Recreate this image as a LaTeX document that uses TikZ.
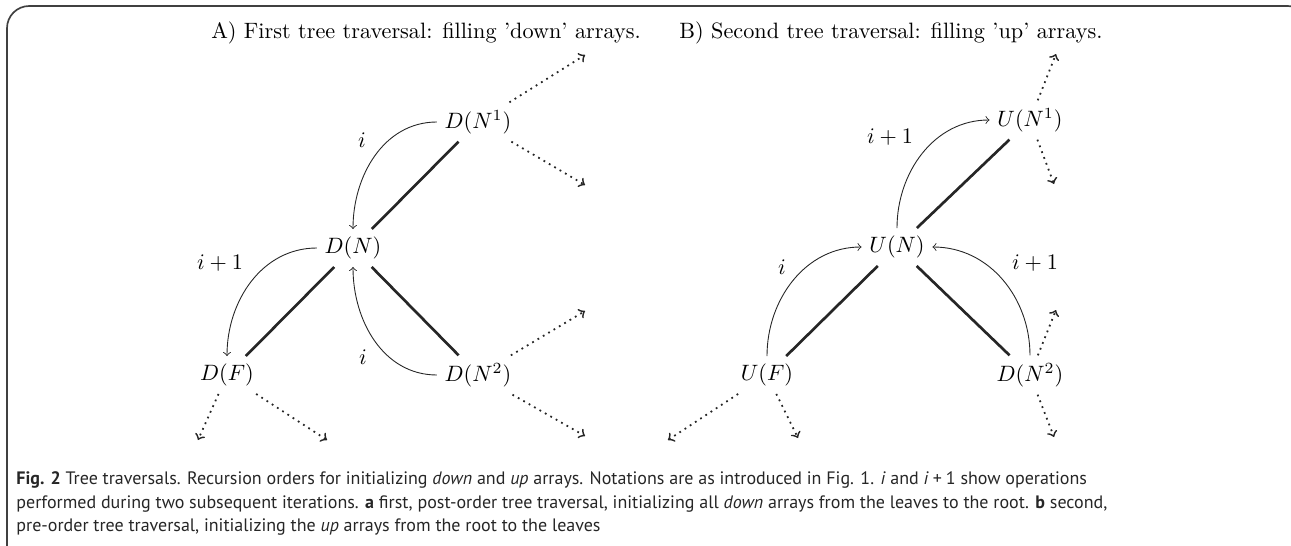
\documentclass[tikz,border=0pt]{standalone}
\usepackage{fontspec}
\newfontfamily\capfont{PT Sans}
\begin{document}
\begin{tikzpicture}[x=0.45pt,y=-0.45pt,
  tnode/.style={font=\fontsize{10}{12}\selectfont, inner sep=3.33pt},
  title/.style={font=\fontsize{10}{12}\selectfont, inner sep=0pt},
  lab/.style={font=\fontsize{10}{12}\selectfont, inner sep=0pt},
  edgeline/.style={line width=1.2pt, black!85},
  curvearrow/.style={->, line width=0.4pt, black!85},
  dotarrow/.style={->, dotted, line width=0.8pt, black!85},
  captext/.style={font=\capfont\fontsize{8.1}{10}\selectfont, anchor=base west, inner sep=0pt, text=black!85},
]
\useasboundingbox (0,0) rectangle (1291,546);
\draw[black!75, line width=0.75pt, rounded corners=10pt] (7,6) rectangle (1310,570);

% titles
\node[title] (tA) at (426,33) {A) First tree traversal: filling 'down' arrays.};
\node[title] (tB) at (891,33) {B) Second tree traversal: filling 'up' arrays.};

% left tree
\node[tnode] (DN1) at (478,122) {$D(N^1)$};
\node[tnode] (DN)  at (353,248) {$D(N)$};
\node[tnode] (DF)  at (227,375) {$D(F)$};
\node[tnode] (DN2) at (478,375) {$D(N^2)$};

\draw[edgeline] (DN) -- (DN1);
\draw[edgeline] (DN) -- (DF);
\draw[edgeline] (DN) -- (DN2);

\coordinate (a1) at (585,55);
\coordinate (a2) at (585,185);
\coordinate (a3) at (585,311);
\coordinate (a4) at (585,436);
\coordinate (a5) at (198,440);
\coordinate (a6) at (327,440);
\draw[dotarrow] (DN1) -- (a1);
\draw[dotarrow] (DN1) -- (a2);
\draw[dotarrow] (DN2) -- (a3);
\draw[dotarrow] (DN2) -- (a4);
\draw[dotarrow] (DF) -- (a5);
\draw[dotarrow] (DF) -- (a6);

\draw[curvearrow] (DN1.west) to[out=180,in=90] (DN.north);
\draw[curvearrow] (DN.west) to[out=180,in=90] (DF.north);
\draw[curvearrow] (DN2.west) to[out=180,in=-90] (DN.south);
\node[lab] (l1) at (362,140) {$i$};
\node[lab] (l2) at (220,263) {$i+1$};
\node[lab] (l3) at (363,357) {$i$};

% right tree
\node[tnode] (UN1) at (1030,120) {$U(N^1)$};
\node[tnode] (UN)  at (897,247) {$U(N)$};
\node[tnode] (UF)  at (767,375) {$U(F)$};
\node[tnode] (RN2) at (1030,375) {$D(N^2)$};

\draw[edgeline] (UN) -- (UN1);
\draw[edgeline] (UN) -- (UF);
\draw[edgeline] (UN) -- (RN2);

\coordinate (b1) at (1056,54);
\coordinate (b2) at (1054,184);
\coordinate (b3) at (1056,310);
\coordinate (b4) at (1054,437);
\coordinate (b5) at (668,440);
\coordinate (b6) at (798,438);
\draw[dotarrow] (UN1) -- (b1);
\draw[dotarrow] (UN1) -- (b2);
\draw[dotarrow] (RN2) -- (b3);
\draw[dotarrow] (RN2) -- (b4);
\draw[dotarrow] (UF) -- (b5);
\draw[dotarrow] (UF) -- (b6);

\draw[curvearrow] (UN.north) to[out=90,in=180] (UN1.west);
\draw[curvearrow] (UF.north) to[out=90,in=180] (UN.west);
\draw[curvearrow] (RN2.north) to[out=90,in=0] (UN.east);
\node[lab] (r1) at (890,137) {$i+1$};
\node[lab] (r2) at (782,267) {$i$};
\node[lab] (r3) at (1035,263) {$i+1$};

% caption
\node[captext] (c1) at (16,484) {\textbf{Fig. 2} Tree traversals. Recursion orders for initializing \textit{down} and \textit{up} arrays. Notations are as introduced in Fig. 1. \textit{i} and \textit{i}\:+\:1 show operations};
\node[captext] (c2) at (16,508) {performed during two subsequent iterations. \textbf{a} first, post-order tree traversal, initializing all \textit{down} arrays from the leaves to the root. \textbf{b} second,};
\node[captext] (c3) at (16,531) {pre-order tree traversal, initializing the \textit{up} arrays from the root to the leaves};
\end{tikzpicture}
\end{document}
